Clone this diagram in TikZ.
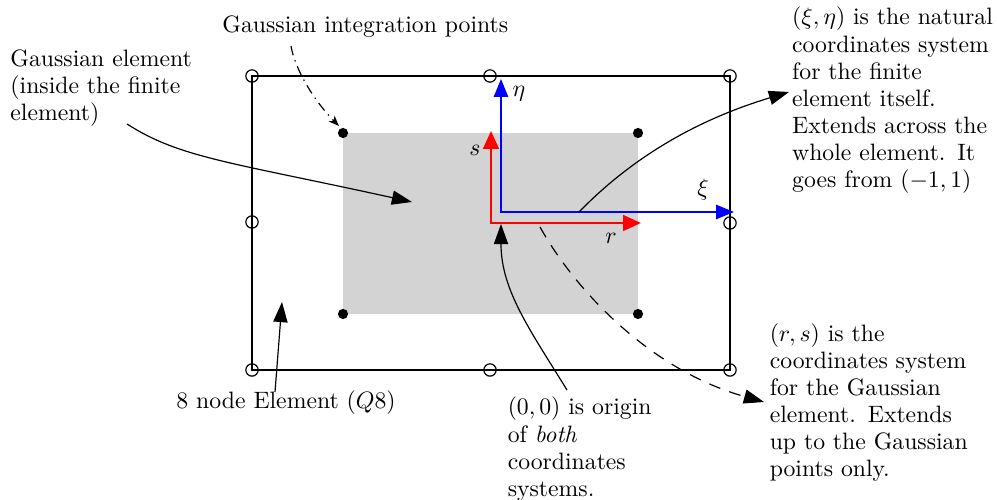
\documentclass[tikz,border=0pt]{standalone}
\usetikzlibrary{arrows.meta}
\definecolor{elemgray}{HTML}{D3D3D3}
\begin{document}
\begin{tikzpicture}[x=0.4219pt,y=-0.4219pt,
  txt/.style={font=\fontsize{10}{11.4}\selectfont, inner sep=0pt, align=left, anchor=base west, text width=#1},
  txt/.default=100pt,
  ptr/.style={line width=0.5pt, -{Triangle[length=8.5pt,width=6pt]}},
  nodecirc/.style={circle, draw, minimum size=5.2pt, inner sep=0pt, line width=0.5pt},
  gdot/.style={circle, fill, minimum size=4.3pt, inner sep=0pt},
  blueaxis/.style={blue, line width=0.6pt, {Triangle[length=7.5pt,width=6pt]}-{Triangle[length=7.5pt,width=6pt]}},
  redaxis/.style={red, line width=1.2pt, line join=miter, {Triangle[length=7.5pt,width=6.5pt]}-{Triangle[length=7.5pt,width=6.5pt]}},
  lbl/.style={inner sep=0pt, font=\fontsize{10}{12}\selectfont}
]
\useasboundingbox (0,0) rectangle (997,500);

% Gaussian element (gray)
\fill[elemgray] (343,133) rectangle (638,314);

% finite element outline
\draw[line width=0.5pt] (252,76) rectangle (730,370);
\node[nodecirc] (c1) at (252,76) {};
\node[nodecirc] (c2) at (490,76) {};
\node[nodecirc] (c3) at (730,76) {};
\node[nodecirc] (c4) at (730,223) {};
\node[nodecirc] (c5) at (730,370) {};
\node[nodecirc] (c6) at (490,370) {};
\node[nodecirc] (c7) at (252,370) {};
\node[nodecirc] (c8) at (252,222) {};

% Gauss points
\node[gdot] (g1) at (343,133) {};
\node[gdot] (g2) at (638,133) {};
\node[gdot] (g3) at (343,314) {};
\node[gdot] (g4) at (638,314) {};

% natural axes (blue)
\coordinate (O) at (501,212);
\coordinate (etatip) at (501,79);
\coordinate (xitip) at (734,212);
\draw[blueaxis] (etatip) -- (O) -- (xitip);
\node[lbl] (leta) at (519,94) {$\eta$};
\node[lbl] (lxi) at (703,190) {$\xi$};

% gauss axes (red)
\coordinate (R) at (491,223);
\coordinate (stip) at (491,131);
\coordinate (rtip) at (641,223);
\draw[redaxis] (stip) -- (R) -- (rtip);
\node[lbl] (ls) at (475,150) {$s$};
\node[lbl] (lr) at (611,238) {$r$};

% texts
\node[txt=160pt] (tgip) at (222,33) {Gaussian integration points};
\node[txt=90pt] (tgel) at (10,66.7) {Gaussian element\\(inside the finite\\element)};
\node[txt] (tq8) at (176,408.3) {8 node Element ($Q8$)};
\node[txt=80pt] (torig) at (507.3,415) {$(0,0)$ is origin\\of \emph{both}\\coordinates\\systems.};
\node[txt=90pt] (trs) at (769.3,341.7) {$(r,s)$ is the\\coordinates system\\for the Gaussian\\element. Extends\\up to the Gaussian\\points only.};
\node[txt=90pt] (txe) at (791.7,25) {$(\xi,\eta)$ is the natural\\coordinates system\\for the finite\\element itself.\\Extends across the\\whole element. It\\goes from $(-1,1)$};

% connectors
\coordinate (gipS) at (291,46);
\coordinate (gipT) at (339,126);
\draw[line width=0.5pt, dash pattern=on 4pt off 2.2pt on 0.6pt off 2.2pt, -{Stealth[length=4.5pt,width=3.5pt]}]
  (gipS) .. controls (295,70) and (315,102) .. (gipT);

\coordinate (gelS) at (127,124);
\coordinate (gelT) at (412,202);
\draw[ptr] (gelS) .. controls (180,158) and (230,162) .. (gelT);

\coordinate (q8S) at (275,392);
\coordinate (q8T) at (282,302);
\draw[ptr] (q8S) -- (q8T);

\coordinate (origS) at (567,390);
\coordinate (origT) at (501,224);
\draw[ptr] (origS) .. controls (530,330) and (501,290) .. (origT);

\coordinate (rsS) at (540,227);
\coordinate (rsT) at (764,402);
\draw[ptr, dash pattern=on 5pt off 4pt] (rsS) .. controls (575,290) and (650,370) .. (rsT);

\coordinate (xeS) at (579,212);
\coordinate (xeT) at (789,92);
\draw[ptr] (xeS) .. controls (620,170) and (680,125) .. (xeT);
\end{tikzpicture}
\end{document}
